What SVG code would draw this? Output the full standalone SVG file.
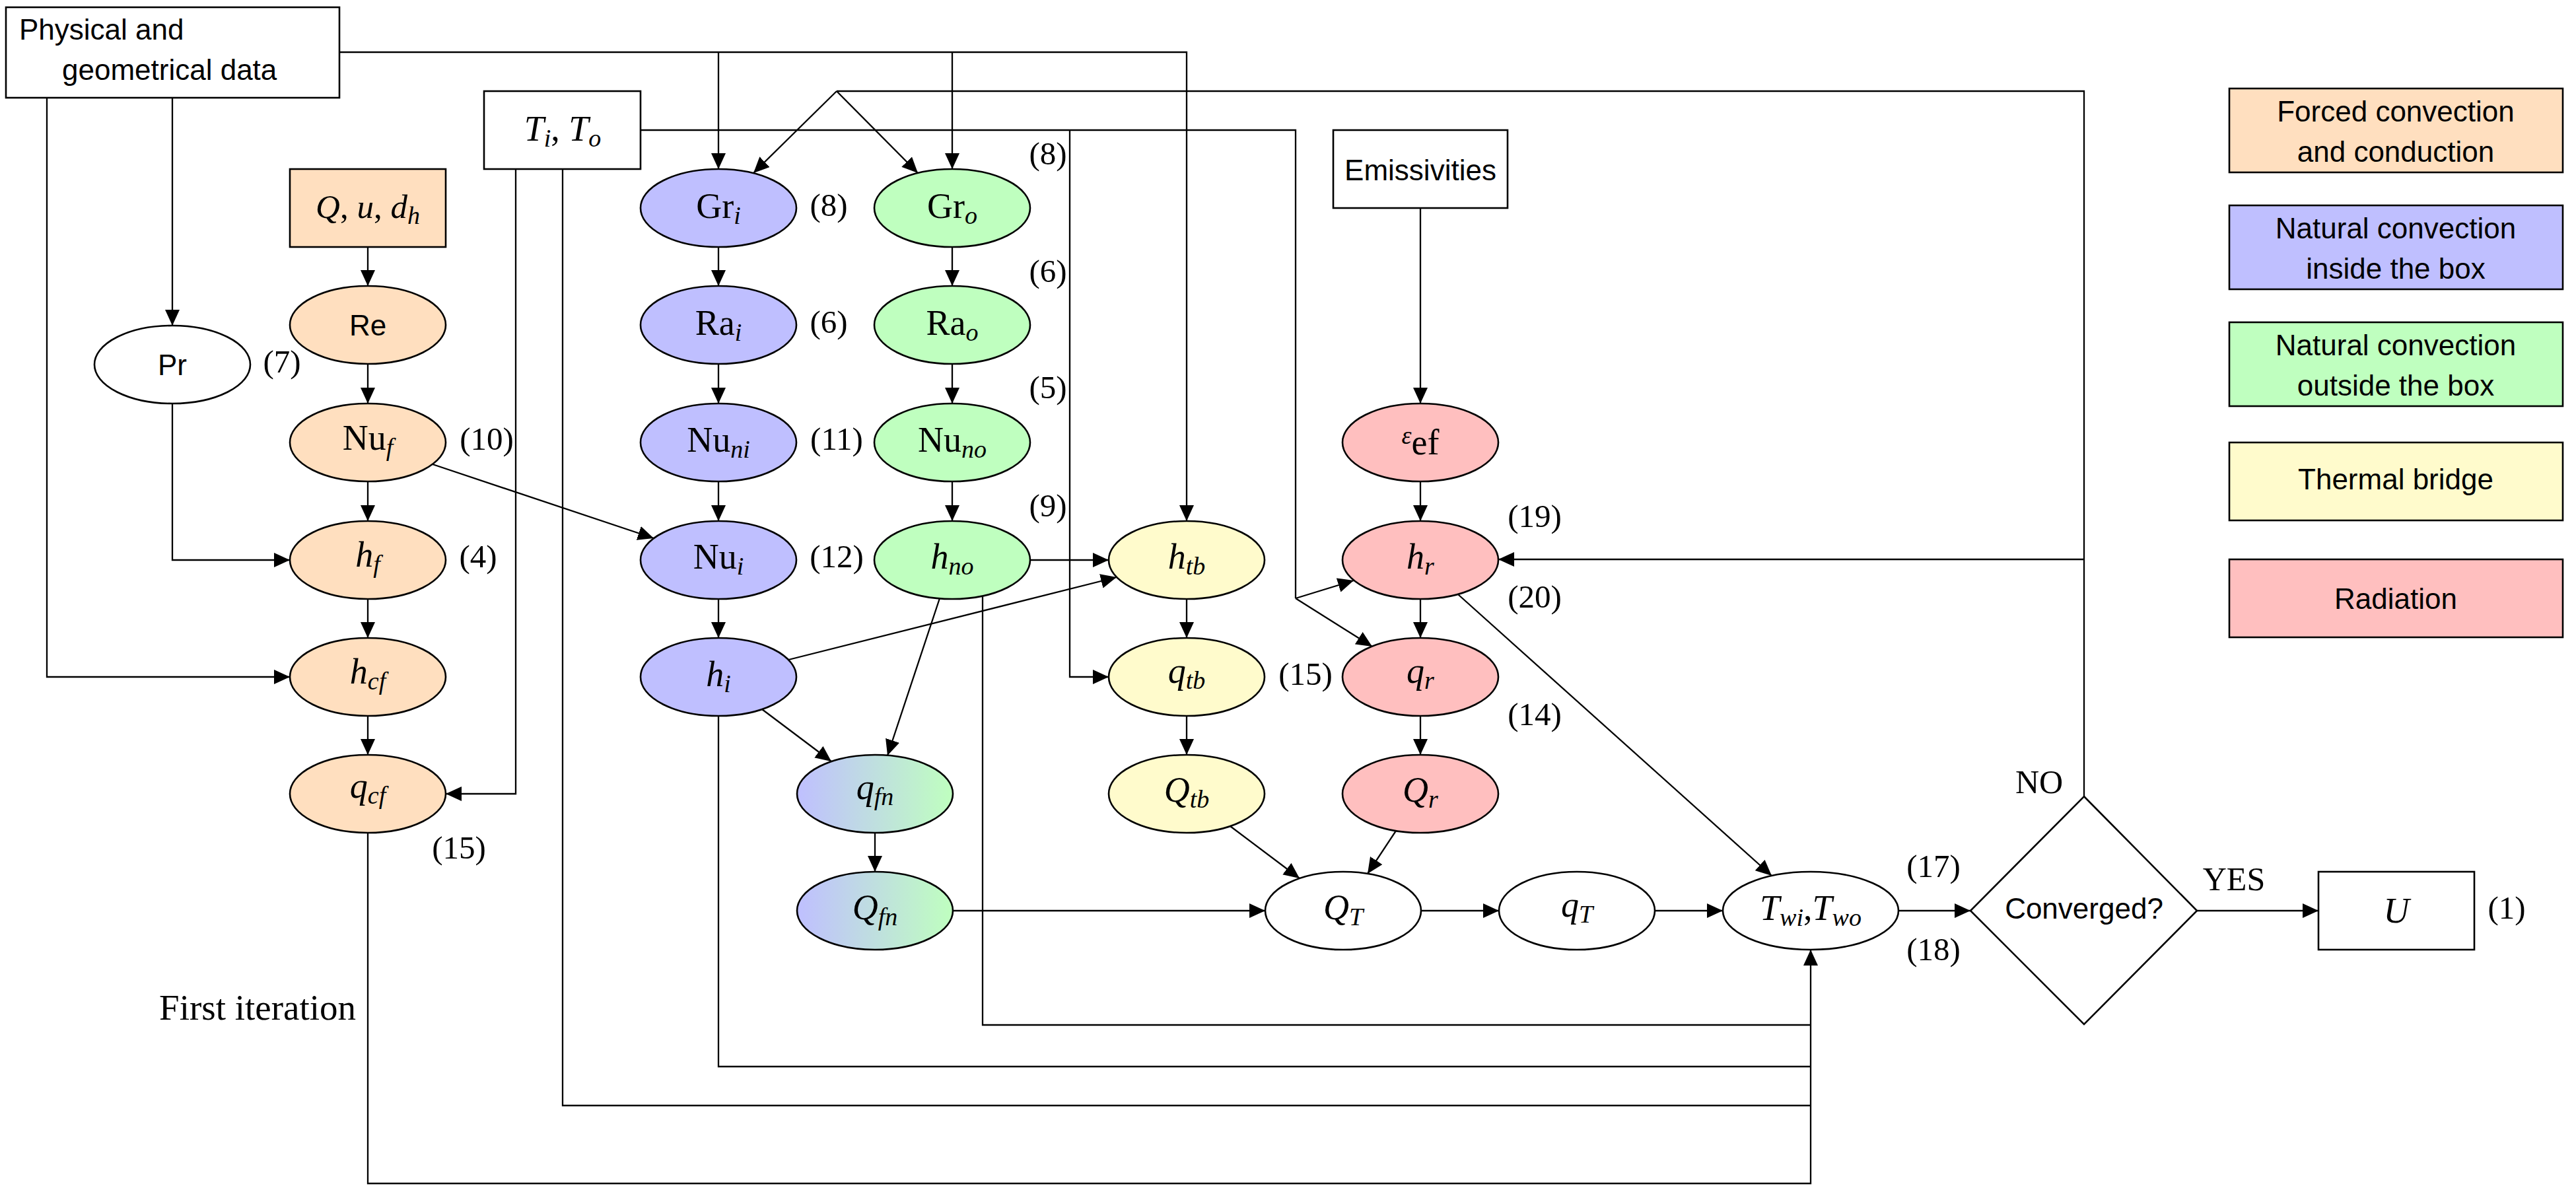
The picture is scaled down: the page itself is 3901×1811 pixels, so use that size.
<svg xmlns="http://www.w3.org/2000/svg" width="3901" height="1811" viewBox="0 0 3901 1811">
<style>
.ln{fill:none;stroke:#000;stroke-width:2.3}
.ar{fill:none;stroke:#000;stroke-width:2.3;marker-end:url(#ah)}
.nd{stroke:#000;stroke-width:2.6}
.or{fill:#FFDFBF}.bl{fill:#BFBFFF}.gr{fill:#BFFFBF}.ye{fill:#FFFBCC}.rd{fill:#FFBFBF}.wh{fill:#fff}.gd{fill:url(#bg)}
.sf{font-family:"Liberation Sans",Arial,sans-serif;font-size:44px;fill:#000}
.c{text-anchor:middle}
.m{font-family:"Liberation Serif","Times New Roman",serif;font-size:54px;text-anchor:middle;fill:#000}
.eq{font-family:"Liberation Serif","Times New Roman",serif;font-size:49px;text-anchor:middle;fill:#000}
.t{font-family:"Liberation Serif","Times New Roman",serif;font-size:50px;fill:#000}
.i{font-style:italic}
.s{font-style:italic;font-size:38px}
</style>
<defs>
<marker id="ah" markerUnits="userSpaceOnUse" markerWidth="24" markerHeight="22" refX="24" refY="11" orient="auto">
<path d="M0,0 L24,11 L0,22 Z" fill="#000"/>
</marker>
<linearGradient id="bg" x1="0" y1="0" x2="1" y2="0">
<stop offset="0" stop-color="#BFBFFF"/>
<stop offset="1" stop-color="#BFFFBF"/>
</linearGradient>
</defs>
<rect width="3901" height="1811" fill="#fff"/>

<g id="connectors">
<path class="ar" d="M261,148 V493"/>
<path class="ar" d="M71,148 V1025 H439"/>
<path class="ar" d="M514,79 H1797 V789"/>
<path class="ar" d="M1088,79 V256"/>
<path class="ar" d="M1442,79 V256"/>
<path class="ar" d="M557,374 V433"/>
<path class="ar" d="M557,551 V611"/>
<path class="ar" d="M557,729 V789"/>
<path class="ar" d="M557,907 V966"/>
<path class="ar" d="M557,1084 V1143"/>
<path class="ar" d="M261,611 V848 H439"/>
<path class="ar" d="M655,703 L990,815"/>
<path class="ar" d="M781,256 V1202 H675"/>
<path class="ln" d="M852,256 V1674 H2742"/>
<path class="ln" d="M970,197 H1962 V906"/>
<path class="ar" d="M1962,906 L2050,879"/>
<path class="ar" d="M1962,906 L2078,979"/>
<path class="ar" d="M1620,197 V1025 H1679"/>
<path class="ar" d="M2151,315 V611"/>
<path class="ar" d="M2151,729 V789"/>
<path class="ar" d="M2151,907 V966"/>
<path class="ar" d="M2151,1084 V1143"/>
<path class="ar" d="M1088,374 V433"/>
<path class="ar" d="M1088,551 V611"/>
<path class="ar" d="M1088,729 V789"/>
<path class="ar" d="M1088,907 V966"/>
<path class="ar" d="M1442,374 V433"/>
<path class="ar" d="M1442,551 V611"/>
<path class="ar" d="M1442,729 V789"/>
<path class="ar" d="M1560,848 H1679"/>
<path class="ar" d="M1194,999 L1691,874"/>
<path class="ar" d="M1423,906 L1344,1144"/>
<path class="ar" d="M1154,1074 L1259,1153"/>
<path class="ln" d="M1488,902 V1552 H2742"/>
<path class="ln" d="M1088,1084 V1615 H2742"/>
<path class="ar" d="M557,1261 V1792 H2742 V1438"/>
<path class="ar" d="M1797,907 V966"/>
<path class="ar" d="M1797,1084 V1143"/>
<path class="ar" d="M1325,1261 V1320"/>
<path class="ar" d="M1443,1379 H1916"/>
<path class="ar" d="M1863,1251 L1968,1330"/>
<path class="ar" d="M2114,1258 L2071,1323"/>
<path class="ar" d="M2152,1379 H2270"/>
<path class="ar" d="M2506,1379 H2609"/>
<path class="ar" d="M2208,900 L2683,1326"/>
<path class="ar" d="M2875,1379 H2984"/>
<path class="ar" d="M3327,1379 H3511"/>
<path class="ln" d="M3156,1206 V138 H1267"/>
<path class="ar" d="M1267,138 L1141,262"/>
<path class="ar" d="M1267,138 L1390,262"/>
<path class="ar" d="M3156,847 H2269"/>
<text class="t" x="539" y="1544" text-anchor="end" style="font-size:55px">First iteration</text>
<text class="t" x="3088" y="1201" text-anchor="middle">NO</text>
<text class="t" x="3383" y="1348" text-anchor="middle">YES</text>
</g>

<g id="physical">
<rect class="nd wh" x="9" y="11" width="505" height="137"/>
<text class="sf" x="29" y="60">Physical and</text>
<text class="sf" x="94" y="121">geometrical data</text>
</g>
<g id="TiTo">
<rect class="nd wh" x="733" y="138" width="237" height="118"/>
<text class="m" x="852" y="213"><tspan class="i">T</tspan><tspan class="s" dy="9">i</tspan><tspan dy="-9">, </tspan><tspan class="i">T</tspan><tspan class="s" dy="9">o</tspan></text>
</g>
<g id="Qud">
<rect class="nd or" x="439" y="256" width="236" height="118"/>
<text class="m" x="557" y="330" style="font-size:51px"><tspan class="i">Q</tspan>, <tspan class="i">u</tspan>, <tspan class="i">d</tspan><tspan class="s" dy="9">h</tspan></text>
</g>
<g id="emissivities">
<rect class="nd wh" x="2019" y="197" width="264" height="118"/>
<text class="sf c" x="2151" y="273">Emissivities</text>
</g>

<g id="Re"><ellipse class="nd or" cx="557" cy="492" rx="118" ry="59"/><text class="sf c" x="557" y="508">Re</text></g>
<g id="Pr"><ellipse class="nd wh" cx="261" cy="552" rx="118" ry="59"/><text class="sf c" x="261" y="568">Pr</text><text class="eq" x="427" y="564">(7)</text></g>
<g id="Nuf"><ellipse class="nd or" cx="557" cy="670" rx="118" ry="59"/><text class="m" x="557" y="681">Nu<tspan class="s" dy="9">f</tspan></text><text class="eq" x="737" y="681">(10)</text></g>
<g id="hf"><ellipse class="nd or" cx="557" cy="848" rx="118" ry="59"/><text class="m" x="557" y="858"><tspan class="i">h</tspan><tspan class="s" dy="9">f</tspan></text><text class="eq" x="724" y="859">(4)</text></g>
<g id="hcf"><ellipse class="nd or" cx="557" cy="1025" rx="118" ry="59"/><text class="m" x="557" y="1035"><tspan class="i">h</tspan><tspan class="s" dy="9">cf</tspan></text></g>
<g id="qcf"><ellipse class="nd or" cx="557" cy="1202" rx="118" ry="59"/><text class="m" x="557" y="1208"><tspan class="i">q</tspan><tspan class="s" dy="9">cf</tspan></text><text class="eq" x="695" y="1300">(15)</text></g>

<g id="Gri"><ellipse class="nd bl" cx="1088" cy="315" rx="118" ry="59"/><text class="m" x="1088" y="330">Gr<tspan class="s" dy="9">i</tspan></text><text class="eq" x="1255" y="327">(8)</text></g>
<g id="Rai"><ellipse class="nd bl" cx="1088" cy="492" rx="118" ry="59"/><text class="m" x="1088" y="507">Ra<tspan class="s" dy="9">i</tspan></text><text class="eq" x="1255" y="504">(6)</text></g>
<g id="Nuni"><ellipse class="nd bl" cx="1088" cy="670" rx="118" ry="59"/><text class="m" x="1088" y="684">Nu<tspan class="s" dy="9">ni</tspan></text><text class="eq" x="1267" y="681">(11)</text></g>
<g id="Nui"><ellipse class="nd bl" cx="1088" cy="848" rx="118" ry="59"/><text class="m" x="1088" y="861">Nu<tspan class="s" dy="9">i</tspan></text><text class="eq" x="1267" y="859">(12)</text></g>
<g id="hi"><ellipse class="nd bl" cx="1088" cy="1025" rx="118" ry="59"/><text class="m" x="1088" y="1039"><tspan class="i">h</tspan><tspan class="s" dy="9">i</tspan></text></g>

<g id="Gro"><ellipse class="nd gr" cx="1442" cy="315" rx="118" ry="59"/><text class="m" x="1442" y="330">Gr<tspan class="s" dy="9">o</tspan></text><text class="eq" x="1587" y="249">(8)</text></g>
<g id="Rao"><ellipse class="nd gr" cx="1442" cy="492" rx="118" ry="59"/><text class="m" x="1442" y="507">Ra<tspan class="s" dy="9">o</tspan></text><text class="eq" x="1587" y="427">(6)</text></g>
<g id="Nuno"><ellipse class="nd gr" cx="1442" cy="670" rx="118" ry="59"/><text class="m" x="1442" y="684">Nu<tspan class="s" dy="9">no</tspan></text><text class="eq" x="1587" y="603">(5)</text></g>
<g id="hno"><ellipse class="nd gr" cx="1442" cy="848" rx="118" ry="59"/><text class="m" x="1442" y="861"><tspan class="i">h</tspan><tspan class="s" dy="9">no</tspan></text><text class="eq" x="1587" y="782">(9)</text></g>

<g id="qfn"><ellipse class="nd gd" cx="1325" cy="1202" rx="118" ry="59"/><text class="m" x="1325" y="1210"><tspan class="i">q</tspan><tspan class="s" dy="9">fn</tspan></text></g>
<g id="Qfn"><ellipse class="nd gd" cx="1325" cy="1379" rx="118" ry="59"/><text class="m" x="1325" y="1392"><tspan class="i">Q</tspan><tspan class="s" dy="9">fn</tspan></text></g>

<g id="htb"><ellipse class="nd ye" cx="1797" cy="848" rx="118" ry="59"/><text class="m" x="1797" y="861"><tspan class="i">h</tspan><tspan class="s" dy="9">tb</tspan></text></g>
<g id="qtb"><ellipse class="nd ye" cx="1797" cy="1025" rx="118" ry="59"/><text class="m" x="1797" y="1034"><tspan class="i">q</tspan><tspan class="s" dy="9">tb</tspan></text><text class="eq" x="1977" y="1037">(15)</text></g>
<g id="Qtb"><ellipse class="nd ye" cx="1797" cy="1202" rx="118" ry="59"/><text class="m" x="1797" y="1214"><tspan class="i">Q</tspan><tspan class="s" dy="9">tb</tspan></text></g>

<g id="eef"><ellipse class="nd rd" cx="2151" cy="670" rx="118" ry="59"/><text class="m" x="2151" y="688"><tspan class="s" dy="-16">ε</tspan><tspan dy="16">ef</tspan></text></g>
<g id="hr"><ellipse class="nd rd" cx="2151" cy="848" rx="118" ry="59"/><text class="m" x="2151" y="861"><tspan class="i">h</tspan><tspan class="s" dy="9">r</tspan></text><text class="eq" x="2324" y="798">(19)</text><text class="eq" x="2324" y="920">(20)</text></g>
<g id="qr"><ellipse class="nd rd" cx="2151" cy="1025" rx="118" ry="59"/><text class="m" x="2151" y="1034"><tspan class="i">q</tspan><tspan class="s" dy="9">r</tspan></text><text class="eq" x="2324" y="1098">(14)</text></g>
<g id="Qr"><ellipse class="nd rd" cx="2151" cy="1202" rx="118" ry="59"/><text class="m" x="2151" y="1214"><tspan class="i">Q</tspan><tspan class="s" dy="9">r</tspan></text></g>

<g id="QT"><ellipse class="nd wh" cx="2034" cy="1379" rx="118" ry="59"/><text class="m" x="2034" y="1392"><tspan class="i">Q</tspan><tspan class="s" dy="9">T</tspan></text></g>
<g id="qT"><ellipse class="nd wh" cx="2388" cy="1379" rx="118" ry="59"/><text class="m" x="2388" y="1388"><tspan class="i">q</tspan><tspan class="s" dy="9">T</tspan></text></g>
<g id="Twi"><ellipse class="nd wh" cx="2742" cy="1379" rx="133" ry="59"/><text class="m" x="2742" y="1393"><tspan class="i">T</tspan><tspan class="s" dy="9">wi</tspan><tspan dy="-9">,</tspan><tspan class="i">T</tspan><tspan class="s" dy="9">wo</tspan></text><text class="eq" x="2928" y="1328">(17)</text><text class="eq" x="2928" y="1454">(18)</text></g>

<g id="converged">
<polygon class="nd wh" points="3156,1206 3327,1379 3156,1551 2984,1379"/>
<text class="sf c" x="3156" y="1391">Converged?</text>
</g>
<g id="U">
<rect class="nd wh" x="3511" y="1320" width="236" height="118"/>
<text class="m" x="3629" y="1397"><tspan class="i">U</tspan></text>
<text class="eq" x="3796" y="1391">(1)</text>
</g>

<g id="legend-forced"><rect class="nd or" x="3376" y="134" width="505" height="127"/><text class="sf c" x="3628" y="184">Forced convection</text><text class="sf c" x="3628" y="245">and conduction</text></g>
<g id="legend-inside"><rect class="nd bl" x="3376" y="311" width="505" height="127"/><text class="sf c" x="3628" y="361">Natural convection</text><text class="sf c" x="3628" y="422">inside the box</text></g>
<g id="legend-outside"><rect class="nd gr" x="3376" y="488" width="505" height="127"/><text class="sf c" x="3628" y="538">Natural convection</text><text class="sf c" x="3628" y="599">outside the box</text></g>
<g id="legend-thermal"><rect class="nd ye" x="3376" y="670" width="505" height="118"/><text class="sf c" x="3628" y="741">Thermal bridge</text></g>
<g id="legend-radiation"><rect class="nd rd" x="3376" y="847" width="505" height="118"/><text class="sf c" x="3628" y="922">Radiation</text></g>
</svg>
